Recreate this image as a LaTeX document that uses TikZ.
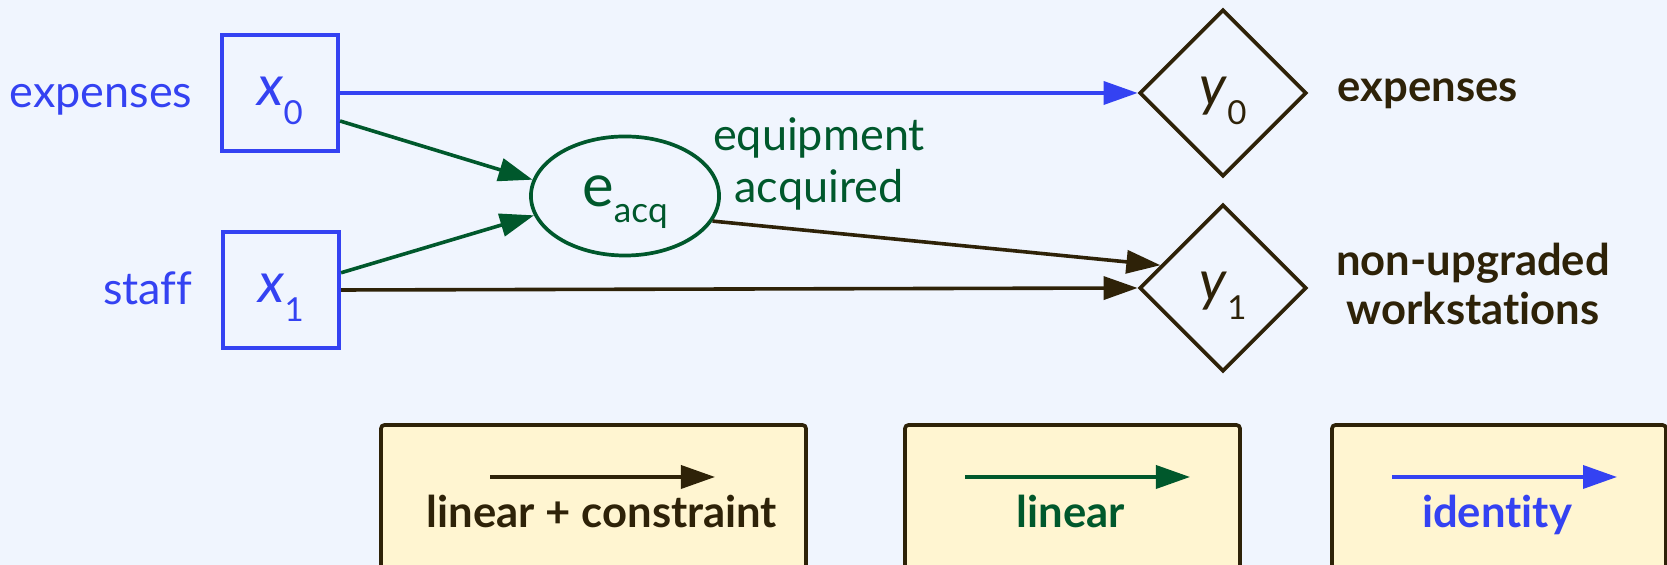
\documentclass[tikz,border=0pt]{standalone}
\usepackage{fontspec}
\setmainfont{Lato}[Ligatures=NoCommon]
\usetikzlibrary{arrows.meta,shapes.geometric}

\definecolor{bgblue}{RGB}{240,245,254}
\definecolor{idblue}{RGB}{52,66,242}
\definecolor{lingreen}{RGB}{0,88,44}
\definecolor{conbrown}{RGB}{46,34,8}
\definecolor{keyfill}{RGB}{255,245,209}

% variable with a lowered index
\newcommand{\varsub}[2]{\textit{#1}\raisebox{-5.4pt}{\fontsize{9.4}{10}\selectfont #2}}

\tikzset{
	inbox/.style={draw=idblue, line width=0.04cm, minimum size=1.16cm, inner sep=0pt,
		text=idblue, text height=7.4pt, text depth=0pt, font=\fontsize{16}{18}\selectfont},
	outdia/.style={diamond, draw=conbrown, line width=0.037cm, minimum width=1.67cm,
		minimum height=1.67cm, inner sep=0pt, text=conbrown, text height=7.4pt, text depth=0pt,
		font=\fontsize{16}{18}\selectfont},
	effell/.style={ellipse, draw=lingreen, line width=0.037cm, minimum width=1.88cm,
		minimum height=1.19cm, inner sep=0pt, text=lingreen, text height=5.7pt, text depth=0pt},
	wire/.style={line width=0.036cm, -{Triangle[length=0.34cm,width=0.23cm]}},
	keybox/.style={draw=conbrown, fill=keyfill, line width=0.037cm, rounded corners=1pt},
	plainlab/.style={inner sep=0pt, font=\fontsize{12.8}{14.7}\selectfont},
	boldlab/.style={inner sep=0pt, font=\fontsize{12.4}{14.2}\selectfont\bfseries},
}

\begin{document}
\begin{tikzpicture}[x=0.01cm, y=-0.01cm]
	%%%%% START %%%%%
	\useasboundingbox (0,0) rectangle (1667,565);
	\fill[bgblue] (0,0) rectangle (1667,565);
	\clip (0,0) rectangle (1667,565);
	
	% inputs
	\node[inbox] (x0) at (280,93) {\varsub{x}{0}};
	\node[inbox] (x1) at (281,290) {\varsub{x}{1}};
	\node[plainlab, text=idblue, anchor=base east] (x0lab) at (193,108) {expenses};
	\node[plainlab, text=idblue, anchor=base east] (x1lab) at (193,305) {staff};
	
	% intermediate effect
	\node[effell] (e) at (625,196) {{\fontsize{17}{19}\selectfont e}\raisebox{-4.8pt}{\fontsize{10}{11}\selectfont acq}};
	\node[plainlab, text=lingreen, align=center] (elab) at (819,164) {equipment\\acquired};
	
	% outputs
	\node[outdia] (y0) at (1223,93) {\varsub{y}{0}};
	\node[outdia] (y1) at (1223,288) {\varsub{y}{1}};
	\node[boldlab, text=conbrown, anchor=base west] (y0lab) at (1337,102) {expenses};
	\node[boldlab, text=conbrown, align=center] (y1lab) at (1473,284) {non-upgraded\\workstations};
	
	\draw[wire, idblue] (x0.east) -- (y0.west);
	\draw[wire, lingreen] (x0.-25) -- (e.170);
	\draw[wire, lingreen] (x1.16) -- (e.192);
	\draw[wire, conbrown] (e.-16) -- (y1.160);
	\draw[wire, conbrown] (x1.east) -- (y1.west);
	
	% key
	\draw[keybox] (381,425) rectangle (806,620);
	\draw[keybox] (905,425) rectangle (1240,620);
	\draw[keybox] (1332,425) rectangle (1666,620);
	
	\coordinate (k0a) at (490,477);
	\coordinate (k0b) at (715,477);
	\coordinate (k1a) at (965,477);
	\coordinate (k1b) at (1190,477);
	\coordinate (k2a) at (1392,477);
	\coordinate (k2b) at (1617,477);
	\draw[wire, conbrown] (k0a) -- (k0b);
	\draw[wire, lingreen] (k1a) -- (k1b);
	\draw[wire, idblue] (k2a) -- (k2b);
	
	\node[boldlab, text=conbrown, anchor=base] (k0lab) at (602,528) {linear + constraint};
	\node[boldlab, text=lingreen, anchor=base] (k1lab) at (1071,528) {linear};
	\node[boldlab, text=idblue, anchor=base] (k2lab) at (1497,528) {identity};
	%%%%% END %%%%%
\end{tikzpicture}
\end{document}
